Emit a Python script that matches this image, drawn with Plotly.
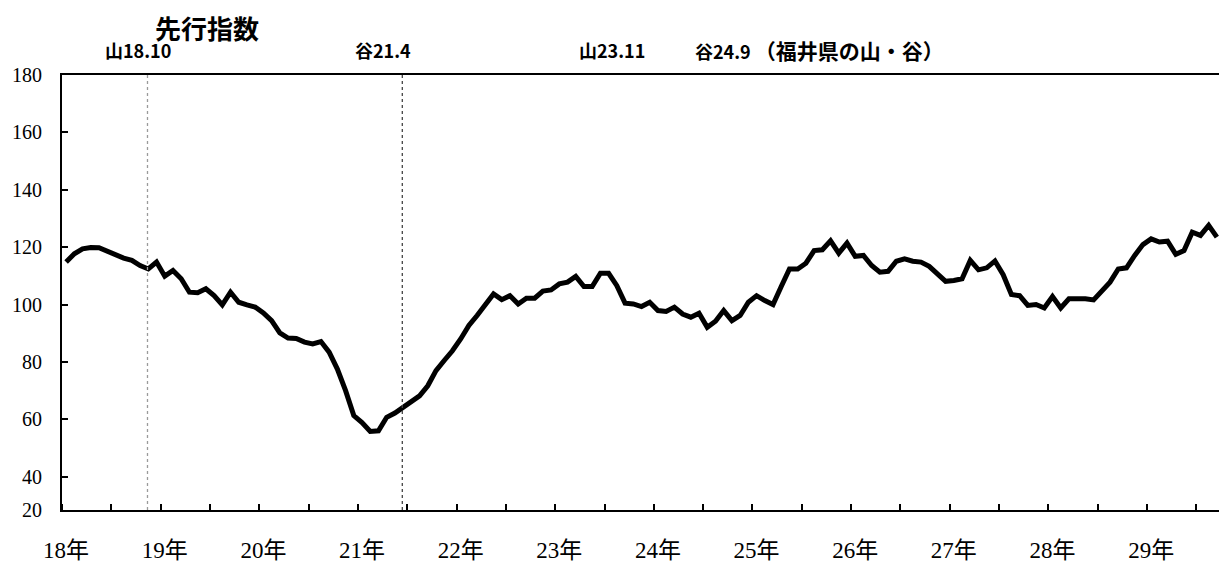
import plotly.graph_objects as go

# Monthly leading index, H18.1 (2006 Jan) .. H29.9
values = [
    114.8, 117.7, 119.4, 119.9, 119.8, 118.5, 117.1, 116.2, 115.4, 113.6, 112.4, 114.8,
    109.9, 111.9, 109.0, 104.3, 104.1, 105.5, 103.1, 99.9, 104.3, 100.8, 99.9, 99.1,
    97.1, 94.4, 90.1, 88.3, 88.2, 86.9, 86.3, 87.1, 83.4, 77.5, 70.0, 61.3,
    58.9, 55.8, 56.0, 60.7, 62.2, 64.2, 66.5, 68.2, 71.7, 77.0, 80.5, 83.9,
    88.0, 92.7, 96.2, 100.2, 103.7, 101.7, 103.1, 100.2, 102.2, 102.2, 104.7, 105.1,
    107.2, 107.8, 109.8, 106.3, 106.3, 110.9, 110.9, 106.6, 100.5, 100.2, 99.3, 100.8,
    97.9, 97.6, 99.1, 96.7, 95.6, 97.0, 92.1, 94.2, 97.9, 94.4, 96.2, 100.8,
    103.1, 101.4, 100.0, 106.3, 112.4, 112.4, 114.4, 118.8, 119.1, 122.2, 117.9, 121.4,
    116.8, 117.1, 113.6, 111.3, 111.6, 115.1, 115.9, 115.1, 114.8, 113.3, 110.7, 108.1,
    108.4, 109.0, 115.4, 112.1, 112.8, 115.2, 110.4, 103.5, 103.1, 99.7, 100.0, 98.8,
    102.8, 98.8, 102.0, 102.2, 102.0, 101.6, 104.7, 107.8, 112.4, 112.8, 117.1, 120.9,
    122.9, 121.8, 122.1, 117.5, 118.8, 125.2, 124.1, 127.6, 123.5,
]
months = list(range(len(values)))

years = list(range(18, 30))
year_labels = [f"{y}年" for y in years]
year_positions = [(y - 18) * 12 for y in years]
half_year_ticks = [-0.5 + 6 * k for k in range(24)]

# reference (turning point) lines, month index
turning_lines = [9.9, 40.9]
turning_colors = ["#9a9a9a", "#444444"]

# y axis: the printed chart's bottom edge is labelled "20" (axis is cut short below 40)
y_bottom = 28.4
y_tick_vals = [y_bottom] + list(range(40, 181, 20))
y_tick_text = ["20"] + [str(v) for v in range(40, 181, 20)]

fig = go.Figure()
fig.add_trace(go.Scatter(
    x=months, y=values, mode="lines",
    line=dict(color="black", width=5),
    showlegend=False, hoverinfo="skip",
))

for xv, col in zip(turning_lines, turning_colors):
    fig.add_shape(type="line", xref="x", yref="paper", x0=xv, x1=xv, y0=0, y1=1,
                  line=dict(color=col, width=1.3, dash="dot"))

cjk = "Noto Sans CJK JP"
ann_font = dict(family=cjk, size=18, color="black", weight="bold")
annots = [
    ("先行指数", 0.125, 1.11, dict(family=cjk, size=26, color="black", weight="bold")),
    ("山18.10", 0.066, 1.057, ann_font),
    ("谷21.4", 0.277, 1.057, ann_font),
    ("山23.11", 0.4745, 1.057, ann_font),
    ("谷24.9 <span style='font-size:21px'>（福井県の山・谷）</span>", 0.654, 1.057, ann_font),
]
for txt, xp, yp, f in annots:
    fig.add_annotation(text=txt, xref="paper", yref="paper", x=xp, y=yp,
                       xanchor="center", yanchor="middle", showarrow=False, font=f)

# The page body has an 8px default margin, so the figure is sized to fit the window
fig.update_layout(
    width=1219, height=573,
    margin=dict(l=54, r=6, t=67, b=71),
    paper_bgcolor="white", plot_bgcolor="white",
    xaxis=dict(
        range=[-0.5, 140.5], tickmode="array", tickvals=year_positions, ticktext=year_labels,
        ticks="", showgrid=False, zeroline=False, automargin=False,
        showline=True, linecolor="black", linewidth=2, mirror=True,
        tickfont=dict(family="Liberation Serif, " + cjk, size=23, color="black"),
        ticklabelstandoff=18,
        minor=dict(tickmode="array", tickvals=half_year_ticks, ticks="inside",
                   ticklen=6, tickwidth=1.5, tickcolor="black", showgrid=False),
    ),
    yaxis=dict(
        range=[y_bottom, 180], tickmode="array", tickvals=y_tick_vals, ticktext=y_tick_text,
        ticks="inside", ticklen=6, tickwidth=1.5, tickcolor="black",
        showgrid=False, zeroline=False, automargin=False,
        showline=True, linecolor="black", linewidth=2, mirror=True,
        tickfont=dict(family="Liberation Serif", size=20, color="black"),
        ticklabelstandoff=14,
    ),
)

fig.write_html("out.html")
